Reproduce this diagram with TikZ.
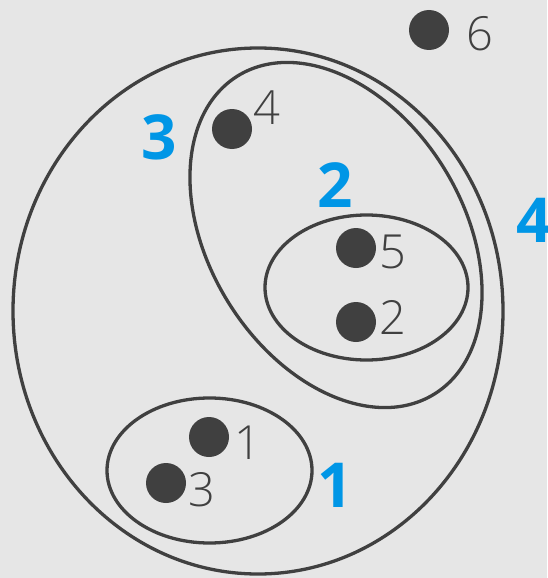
\documentclass[tikz,border=0pt]{standalone}
\usepackage{fontspec}
\setmainfont{Open Sans}
\newfontfamily\lightfont{Open Sans Light}
\usetikzlibrary{shapes.geometric}
\definecolor{bg}{HTML}{E6E6E6}
\definecolor{ink}{HTML}{404040}
\definecolor{setblue}{HTML}{0096E6}
\tikzset{
  dot/.style={circle,fill=ink,minimum size=40pt,inner sep=0pt},
  num/.style={inner sep=0pt,text=ink,font=\lightfont\fontsize{47}{47}\selectfont},
  setlab/.style={inner sep=0pt,text=setblue,font=\fontsize{62}{62}\selectfont\bfseries},
  setline/.style={draw=ink,line width=3.3pt}
}
\begin{document}
\begin{tikzpicture}[x=1pt,y=-1pt]
\fill[bg] (0,0) rectangle (547,578);
\useasboundingbox (0,0) rectangle (547,578);
% sets
\draw[setline] (258,311) ellipse [x radius=245, y radius=263];
\draw[setline] (336,235) ellipse [x radius=187, y radius=127, rotate=-58.3];
\draw[setline] (366.5,287.5) ellipse [x radius=101.5, y radius=72.5];
\draw[setline] (209.5,470.5) ellipse [x radius=102.5, y radius=72.5];
% elements
\node[dot] (d4) at (232,129) {};
\node[dot] (d5) at (356,248) {};
\node[dot] (d2) at (356,322) {};
\node[dot] (d1) at (209,437) {};
\node[dot] (d3) at (166,483) {};
\node[dot] (d6) at (429,30) {};
\node[num] (l4) at (267,108) {4};
\node[num] (l5) at (393,252) {5};
\node[num] (l2) at (393,317) {2};
\node[num] (l1) at (248,443) {1};
\node[num] (l3) at (202,490) {3};
\node[num] (l6) at (480,34) {6};
% set labels
\node[setlab] (s3) at (159,137) {3};
\node[setlab] (s2) at (335,185) {2};
\node[setlab] (s1) at (335,485) {1};
\node[setlab] (s4) at (534,220) {4};
\end{tikzpicture}
\end{document}
